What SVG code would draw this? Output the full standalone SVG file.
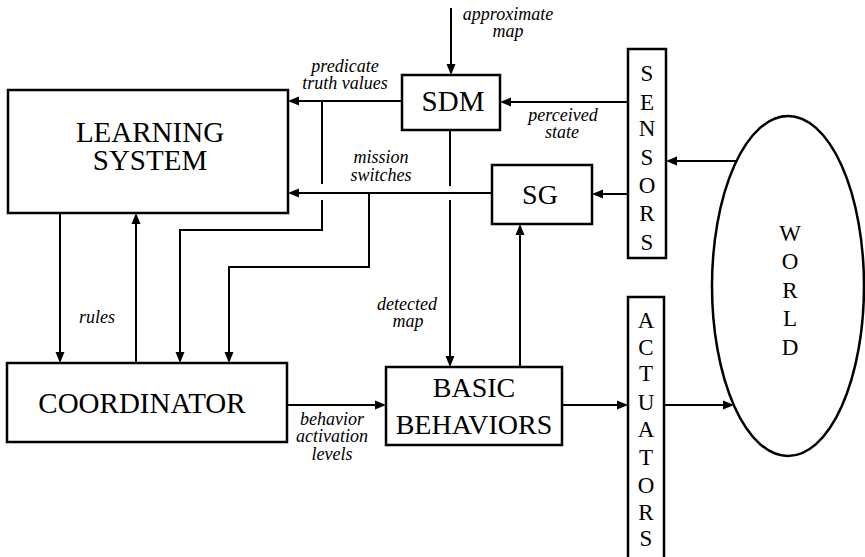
<svg xmlns="http://www.w3.org/2000/svg" width="865" height="557" viewBox="0 0 865 557">
<rect width="865" height="557" fill="#fff"/>

<g id="connectors" fill="none" stroke="#000" stroke-width="2">
<line x1="451" y1="8" x2="451" y2="65"/>
<line x1="402" y1="101" x2="298" y2="101"/>
<line x1="322" y1="101" x2="322" y2="184"/>
<polyline points="322,200 322,230 180,230 180,353"/>
<line x1="628" y1="102" x2="510" y2="102"/>
<line x1="492" y1="193" x2="298" y2="193"/>
<polyline points="369,193 369,267 229,267 229,353"/>
<line x1="60" y1="213" x2="60" y2="353"/>
<line x1="136" y1="363" x2="136" y2="223"/>
<line x1="450" y1="130" x2="450" y2="186"/>
<line x1="450" y1="200" x2="450" y2="357"/>
<line x1="520" y1="367" x2="520" y2="234"/>
<line x1="628" y1="194" x2="602" y2="194"/>
<line x1="737" y1="161" x2="676" y2="161"/>
<line x1="287" y1="405" x2="376" y2="405"/>
<line x1="562" y1="405" x2="618" y2="405"/>
<line x1="664" y1="405" x2="724" y2="405"/>
</g>
<g id="arrowheads" fill="#000" stroke="none">
<polygon points="446.5,64 455.5,64 451,75"/>
<polygon points="299,96.5 299,105.5 288,101"/>
<polygon points="175.5,352 184.5,352 180,363"/>
<polygon points="511,97.5 511,106.5 500,102"/>
<polygon points="299,188.5 299,197.5 288,193"/>
<polygon points="224.5,352 233.5,352 229,363"/>
<polygon points="55.5,352 64.5,352 60,363"/>
<polygon points="131.5,224 140.5,224 136,213"/>
<polygon points="445.5,356 454.5,356 450,367"/>
<polygon points="515.5,235 524.5,235 520,224"/>
<polygon points="603,189.5 603,198.5 592,194"/>
<polygon points="677,156.5 677,165.5 666,161"/>
<polygon points="375,400.5 375,409.5 386,405"/>
<polygon points="617,400.5 617,409.5 628,405"/>
<polygon points="723,400.5 723,409.5 734,405"/>
</g>

<g id="labels">
<text x="508" y="20" text-anchor="middle" font-family="Liberation Serif" font-style="italic" font-size="18">approximate</text>
<text x="508" y="37" text-anchor="middle" font-family="Liberation Serif" font-style="italic" font-size="18">map</text>
<text x="345" y="72" text-anchor="middle" font-family="Liberation Serif" font-style="italic" font-size="18">predicate</text>
<text x="345" y="89" text-anchor="middle" font-family="Liberation Serif" font-style="italic" font-size="18">truth values</text>
<text x="563" y="121" text-anchor="middle" font-family="Liberation Serif" font-style="italic" font-size="18">perceived</text>
<text x="562" y="138" text-anchor="middle" font-family="Liberation Serif" font-style="italic" font-size="18">state</text>
<text x="381" y="163" text-anchor="middle" font-family="Liberation Serif" font-style="italic" font-size="18">mission</text>
<text x="381" y="181" text-anchor="middle" font-family="Liberation Serif" font-style="italic" font-size="18">switches</text>
<text x="407" y="310" text-anchor="middle" font-family="Liberation Serif" font-style="italic" font-size="18">detected</text>
<text x="408" y="327" text-anchor="middle" font-family="Liberation Serif" font-style="italic" font-size="18">map</text>
<text x="97" y="323" text-anchor="middle" font-family="Liberation Serif" font-style="italic" font-size="18">rules</text>
<text x="332" y="425" text-anchor="middle" font-family="Liberation Serif" font-style="italic" font-size="18">behavior</text>
<text x="332" y="442" text-anchor="middle" font-family="Liberation Serif" font-style="italic" font-size="18">activation</text>
<text x="332" y="460" text-anchor="middle" font-family="Liberation Serif" font-style="italic" font-size="18">levels</text>
</g>

<g id="learning">
<rect x="8" y="90" width="280" height="123" fill="#fff" stroke="#000" stroke-width="2.5"/>
<text x="150" y="142" text-anchor="middle" font-family="Liberation Serif" font-size="29">LEARNING</text>
<text x="150" y="170" text-anchor="middle" font-family="Liberation Serif" font-size="29">SYSTEM</text>
</g>

<g id="sdm">
<rect x="402" y="75" width="98" height="55" fill="#fff" stroke="#000" stroke-width="2.5"/>
<text x="453" y="111" text-anchor="middle" font-family="Liberation Serif" font-size="29">SDM</text>
</g>

<g id="sg">
<rect x="492" y="165" width="100" height="59" fill="#fff" stroke="#000" stroke-width="2.5"/>
<text x="540" y="204" text-anchor="middle" font-family="Liberation Serif" font-size="28">SG</text>
</g>

<g id="coordinator">
<rect x="7" y="363" width="280" height="79" fill="#fff" stroke="#000" stroke-width="2.5"/>
<text x="142" y="413" text-anchor="middle" font-family="Liberation Serif" font-size="29">COORDINATOR</text>
</g>

<g id="basic">
<rect x="386" y="367" width="176" height="78" fill="#fff" stroke="#000" stroke-width="2.5"/>
<text x="474" y="397" text-anchor="middle" font-family="Liberation Serif" font-size="28">BASIC</text>
<text x="474" y="434" text-anchor="middle" font-family="Liberation Serif" font-size="28">BEHAVIORS</text>
</g>

<g id="sensors">
<rect x="628" y="49" width="38" height="209" fill="#fff" stroke="#000" stroke-width="2.5"/>
<text x="647" y="81" text-anchor="middle" font-family="Liberation Serif" font-size="23">S</text>
<text x="647" y="110" text-anchor="middle" font-family="Liberation Serif" font-size="23">E</text>
<text x="647" y="136" text-anchor="middle" font-family="Liberation Serif" font-size="23">N</text>
<text x="647" y="165" text-anchor="middle" font-family="Liberation Serif" font-size="23">S</text>
<text x="647" y="193" text-anchor="middle" font-family="Liberation Serif" font-size="23">O</text>
<text x="647" y="221" text-anchor="middle" font-family="Liberation Serif" font-size="23">R</text>
<text x="647" y="250" text-anchor="middle" font-family="Liberation Serif" font-size="23">S</text>
</g>

<g id="actuators">
<rect x="628" y="297" width="36" height="270" fill="#fff" stroke="#000" stroke-width="2.5"/>
<text x="646" y="328" text-anchor="middle" font-family="Liberation Serif" font-size="23">A</text>
<text x="646" y="355" text-anchor="middle" font-family="Liberation Serif" font-size="23">C</text>
<text x="646" y="381" text-anchor="middle" font-family="Liberation Serif" font-size="23">T</text>
<text x="646" y="410" text-anchor="middle" font-family="Liberation Serif" font-size="23">U</text>
<text x="646" y="437" text-anchor="middle" font-family="Liberation Serif" font-size="23">A</text>
<text x="646" y="465" text-anchor="middle" font-family="Liberation Serif" font-size="23">T</text>
<text x="646" y="493" text-anchor="middle" font-family="Liberation Serif" font-size="23">O</text>
<text x="646" y="520" text-anchor="middle" font-family="Liberation Serif" font-size="23">R</text>
<text x="646" y="546" text-anchor="middle" font-family="Liberation Serif" font-size="23">S</text>
</g>

<g id="world">
<ellipse cx="788" cy="286" rx="76" ry="170" fill="#fff" stroke="#000" stroke-width="2.5"/>
<text x="790" y="241" text-anchor="middle" font-family="Liberation Serif" font-size="23">W</text>
<text x="790" y="269" text-anchor="middle" font-family="Liberation Serif" font-size="23">O</text>
<text x="790" y="298" text-anchor="middle" font-family="Liberation Serif" font-size="23">R</text>
<text x="790" y="326" text-anchor="middle" font-family="Liberation Serif" font-size="23">L</text>
<text x="790" y="355" text-anchor="middle" font-family="Liberation Serif" font-size="23">D</text>
</g>
</svg>
